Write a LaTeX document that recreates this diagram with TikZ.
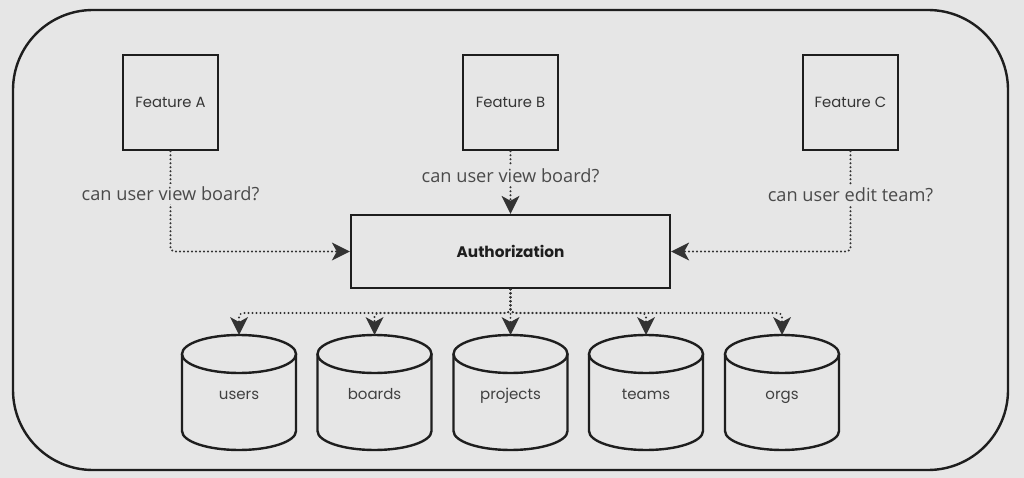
\documentclass[tikz,border=0pt]{standalone}
\usepackage{fontspec}
\setmainfont{Poppins}
\newfontfamily\labelfont{Open Sans}
\usetikzlibrary{arrows.meta}
\definecolor{bg}{HTML}{E6E6E6}
\definecolor{ink}{HTML}{1E1E1E}
\definecolor{tip}{HTML}{333333}
\definecolor{lbl}{HTML}{4A4A4A}
\begin{document}
\begin{tikzpicture}[x=1pt,y=-1pt,
  featbox/.style={draw=ink,line width=2.4pt,fill=bg,minimum width=95pt,minimum height=95pt,inner sep=0pt,font=\fontsize{14.8}{16}\selectfont,text=ink!90},
  authbox/.style={draw=ink,line width=2.4pt,fill=bg,minimum width=319pt,minimum height=73pt,inner sep=0pt,font=\fontsize{15.3}{17}\selectfont\bfseries,text=ink},
  conn/.style={draw=tip,line width=2.2pt,dash pattern=on 0pt off 4pt,line cap=round,rounded corners=4pt,-{Stealth[length=18pt,width=18pt,inset=5pt,line width=0pt,fill=tip]}},
  qlabel/.style={fill=bg,inner sep=3pt,font=\labelfont\fontsize{18.2}{20}\selectfont,text=lbl},
  dbtext/.style={font=\fontsize{15}{17}\selectfont,text=ink!85,text height=1.4ex,text depth=0.35ex,anchor=base},
  cyl/.style={draw=ink,line width=2.4pt,fill=bg}
]
\fill[bg] (0,0) rectangle (1024,478);
\useasboundingbox (0,0) rectangle (1024,478);
\draw[ink,line width=2.4pt,rounded corners=80pt] (13,10) rectangle (1008,470);

\node[featbox] (fa) at (170.5,102.5) {Feature A};
\node[featbox] (fb) at (510.5,102.5) {Feature B};
\node[featbox] (fc) at (850.5,102.5) {Feature C};
\node[authbox] (auth) at (510.5,251.5) {Authorization};

% cylinders
\foreach \nm/\cx/\txt in {users/239/users,boards/374.5/boards,projects/510.5/projects,teams/646/teams,orgs/782/orgs}{
  \draw[cyl] (\cx-57,354) -- (\cx-57,431) arc[start angle=180,end angle=360,x radius=57,y radius=-19] -- (\cx+57,354);
  \draw[cyl] (\cx,354) ellipse[x radius=57,y radius=19];
  \coordinate (\nm-top) at (\cx,335);
  \node[dbtext] (\nm) at (\cx,399) {\txt};
}

% feature connectors
\draw[conn] (fa.south) |- (auth.west);
\draw[conn] (fb.south) -- (auth.north);
\draw[conn] (fc.south) |- (auth.east);
\node[qlabel] (qa) at (170.5,194) {can user view board?};
\node[qlabel] (qb) at (510.5,176) {can user view board?};
\node[qlabel] (qc) at (850.5,195) {can user edit team?};

% storage connectors
\coordinate (split) at (510.5,313);
\foreach \nm in {users,boards,projects,teams,orgs}{
  \draw[conn] (auth.south) -- (split) -| (\nm-top);
}
\end{tikzpicture}
\end{document}
